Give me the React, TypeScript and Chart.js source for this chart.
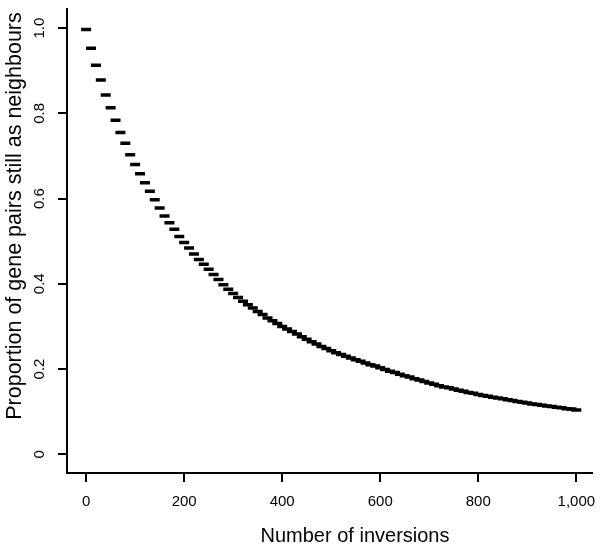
import React, { useEffect, useRef } from "react";
import { Chart, registerables } from "chart.js";

Chart.register(...registerables);

const inversions = [
  0, 10, 20, 30, 40, 50, 60, 70, 80, 90,
  100, 110, 120, 130, 140, 150, 160, 170, 180, 190,
  200, 210, 220, 230, 240, 250, 260, 270, 280, 290,
  300, 310, 320, 330, 340, 350, 360, 370, 380, 390,
  400, 410, 420, 430, 440, 450, 460, 470, 480, 490,
  500, 510, 520, 530, 540, 550, 560, 570, 580, 590,
  600, 610, 620, 630, 640, 650, 660, 670, 680, 690,
  700, 710, 720, 730, 740, 750, 760, 770, 780, 790,
  800, 810, 820, 830, 840, 850, 860, 870, 880, 890,
  900, 910, 920, 930, 940, 950, 960, 970, 980, 990,
  1000,
];

const proportion = [
  0.997, 0.953, 0.913, 0.878, 0.843, 0.813, 0.784, 0.755, 0.730, 0.703,
  0.680, 0.658, 0.637, 0.617, 0.597, 0.578, 0.559, 0.543, 0.528, 0.511,
  0.497, 0.484, 0.470, 0.457, 0.446, 0.434, 0.422, 0.410, 0.398, 0.387,
  0.377, 0.368, 0.359, 0.351, 0.343, 0.335, 0.328, 0.320, 0.313, 0.307,
  0.300, 0.294, 0.288, 0.282, 0.276, 0.270, 0.264, 0.259, 0.253, 0.248,
  0.243, 0.238, 0.234, 0.230, 0.226, 0.222, 0.218, 0.214, 0.210, 0.207,
  0.203, 0.199, 0.195, 0.192, 0.188, 0.184, 0.181, 0.177, 0.174, 0.171,
  0.167, 0.164, 0.161, 0.158, 0.156, 0.153, 0.150, 0.148, 0.145, 0.143,
  0.140, 0.138, 0.136, 0.134, 0.132, 0.130, 0.128, 0.126, 0.124, 0.122,
  0.120, 0.118, 0.117, 0.115, 0.113, 0.112, 0.110, 0.109, 0.107, 0.106,
  0.104,
];

const xTicks = [0, 200, 400, 600, 800, 1000];
const xTickLabels = ["0", "200", "400", "600", "800", "1,000"];
const yTicks = [0, 0.2, 0.4, 0.6, 0.8, 1.0];
const yTickLabels = ["0", "0.2", "0.4", "0.6", "0.8", "1.0"];
const xTitle = "Number of inversions";
const yTitle = "Proportion of gene pairs still as neighbours";

const FONT = '"Liberation Sans", Arial, Helvetica, sans-serif';

const textPlugin = {
  id: "rStyleText",
  afterDraw(chart: any) {
    const ctx = chart.ctx;
    const xs = chart.scales.x;
    const ys = chart.scales.y;
    const area = chart.chartArea;
    ctx.save();
    ctx.fillStyle = "#000";
    ctx.textAlign = "center";
    ctx.textBaseline = "middle";

    ctx.font = `15px ${FONT}`;
    xTicks.forEach((v, i) => {
      ctx.fillText(xTickLabels[i], xs.getPixelForValue(v), area.bottom + 29);
    });

    ctx.font = `15px ${FONT}`;
    yTicks.forEach((v, i) => {
      ctx.save();
      ctx.translate(area.left - 27, ys.getPixelForValue(v));
      ctx.rotate(-Math.PI / 2);
      ctx.fillText(yTickLabels[i], 0, 0);
      ctx.restore();
    });

    ctx.font = `20px ${FONT}`;
    ctx.fillText(xTitle, 355, area.bottom + 63);

    ctx.font = `21.5px ${FONT}`;
    ctx.save();
    ctx.translate(15, 216);
    ctx.rotate(-Math.PI / 2);
    ctx.fillText(yTitle, 0, 0);
    ctx.restore();

    ctx.restore();
  },
};

export default function App() {
  const canvasRef = useRef<HTMLCanvasElement | null>(null);

  useEffect(() => {
    const canvas = canvasRef.current;
    if (!canvas) return;
    const points = inversions.map((x, i) => ({ x, y: proportion[i] }));
    const chart = new Chart(canvas, {
      type: "scatter",
      data: {
        datasets: [
          {
            data: points,
            pointStyle: "line",
            pointRadius: 5,
            pointBorderWidth: 3.5,
            borderColor: "#000",
            backgroundColor: "#000",
            showLine: false,
          },
        ],
      },
      options: {
        animation: false,
        responsive: false,
        devicePixelRatio: 1,
        events: [],
        layout: { padding: { left: 0, right: 7, top: 0, bottom: 0 } },
        plugins: {
          legend: { display: false },
          tooltip: { enabled: false },
          title: { display: false },
        },
        scales: {
          x: {
            type: "linear",
            min: -39,
            max: 1031,
            afterBuildTicks: (s: any) => {
              s.ticks = xTicks.map((v) => ({ value: v }));
            },
            afterFit: (s: any) => {
              s.height = 75;
            },
            ticks: { display: false },
            grid: {
              display: true,
              drawOnChartArea: false,
              drawTicks: true,
              tickLength: 9,
              color: "#000",
              lineWidth: 2,
            },
            border: { display: true, color: "#000", width: 2 },
          },
          y: {
            type: "linear",
            min: -0.044,
            max: 1.046,
            afterBuildTicks: (s: any) => {
              s.ticks = yTicks.map((v) => ({ value: v }));
            },
            afterFit: (s: any) => {
              s.width = 67;
            },
            ticks: { display: false },
            grid: {
              display: true,
              drawOnChartArea: false,
              drawTicks: true,
              tickLength: 9,
              color: "#000",
              lineWidth: 2,
            },
            border: { display: true, color: "#000", width: 2 },
          },
        },
      },
      plugins: [textPlugin],
    });
    return () => chart.destroy();
  }, []);

  return (
    <div style={{ position: "absolute", left: 0, top: 0, width: 600, height: 548, background: "#fff" }}>
      <canvas ref={canvasRef} width={600} height={548} style={{ display: "block" }} />
    </div>
  );
}
